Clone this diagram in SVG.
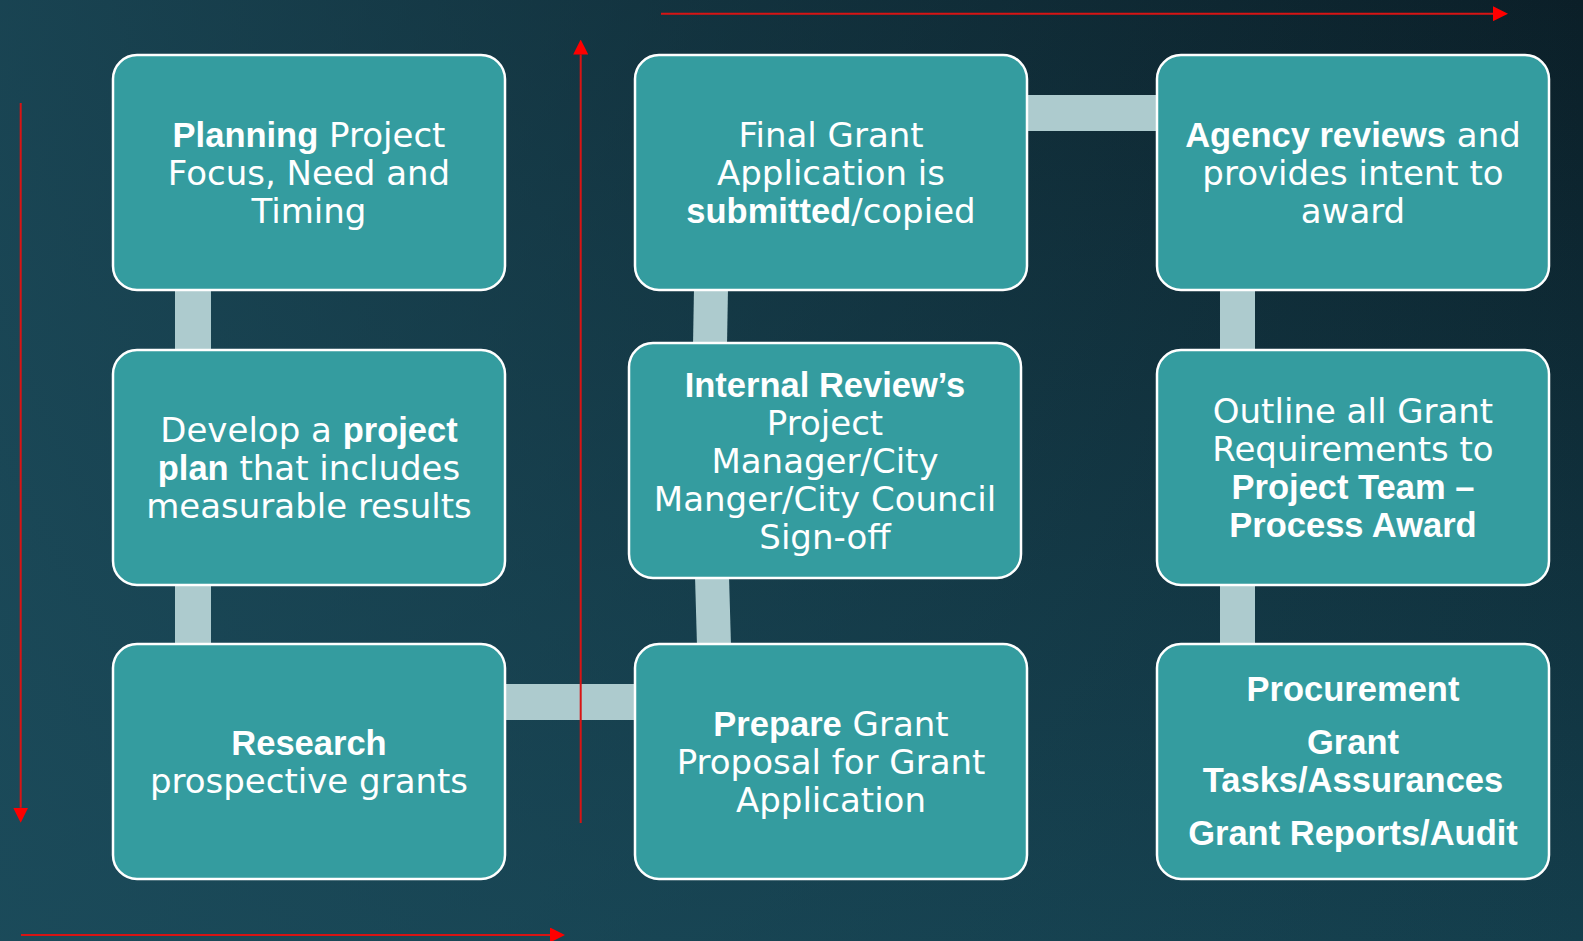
<svg xmlns="http://www.w3.org/2000/svg" width="1583" height="941" viewBox="0 0 1583 941">
<defs>
<linearGradient id="base" x1="0" y1="0" x2="0" y2="941" gradientUnits="userSpaceOnUse">
<stop offset="0" stop-color="#0B1F28"/>
<stop offset="1" stop-color="#143E4C"/>
</linearGradient>
<linearGradient id="light" x1="0" y1="0" x2="1583" y2="0" gradientUnits="userSpaceOnUse">
<stop offset="0" stop-color="#1D4E5E" stop-opacity="0.78"/>
<stop offset="0.4" stop-color="#1D4E5E" stop-opacity="0.45"/>
<stop offset="1" stop-color="#1D4E5E" stop-opacity="0"/>
</linearGradient>
<marker id="ah" viewBox="0 0 15 15" refX="0" refY="7.5" markerWidth="15" markerHeight="15" markerUnits="userSpaceOnUse" orient="auto">
<path d="M0,0 L15,7.5 L0,15 Z" fill="#FF0000"/>
</marker>
<style>
.box{fill:#349C9F;stroke:#FFFFFF;stroke-width:2.5}
.bar{fill:#ADCBCE}
.arr{stroke:#D81414;stroke-width:2;fill:none}
.t{fill:#FFFFFF;font-family:"DejaVu Sans",sans-serif;font-size:34px;text-anchor:middle}
.b{font-family:"Liberation Sans",Arial,sans-serif;font-weight:bold;font-size:34.5px}
</style>
</defs>
<rect x="0" y="0" width="1583" height="941" fill="url(#base)"/>
<rect x="0" y="0" width="1583" height="941" fill="url(#light)"/>

<g id="connectors">
<rect class="bar" x="175" y="288" width="36" height="64"/>
<rect class="bar" x="175" y="583" width="36" height="63"/>
<rect class="bar" x="503" y="684" width="134" height="36"/>
<polygon class="bar" points="695,576 729,576 731,646 697,646"/>
<polygon class="bar" points="694,288 728,288 727,345 693,345"/>
<rect class="bar" x="1025" y="95" width="134" height="36"/>
<rect class="bar" x="1220" y="288" width="35" height="64"/>
<rect class="bar" x="1220" y="583" width="35" height="63"/>
</g>

<g id="arrows">
<line class="arr" x1="20.7" y1="103" x2="20.7" y2="807.7" marker-end="url(#ah)"/>
<line class="arr" x1="21" y1="935" x2="550" y2="935" marker-end="url(#ah)"/>
<line class="arr" x1="580.7" y1="823" x2="580.7" y2="54.5" marker-end="url(#ah)"/>
<line class="arr" x1="661" y1="13.7" x2="1493" y2="13.7" marker-end="url(#ah)"/>
</g>

<g id="n1">
<rect class="box" x="113" y="55" width="392" height="235" rx="24"/>
<text class="t" x="309" y="147"><tspan class="b">Planning</tspan> Project</text>
<text class="t" x="309" y="185">Focus, Need and</text>
<text class="t" x="309" y="223">Timing</text>
</g>

<g id="n2">
<rect class="box" x="113" y="350" width="392" height="235" rx="24"/>
<text class="t" x="309" y="442">Develop a <tspan class="b">project</tspan></text>
<text class="t" x="309" y="480"><tspan class="b">plan</tspan> that includes</text>
<text class="t" x="309" y="518">measurable results</text>
</g>

<g id="n3">
<rect class="box" x="113" y="644" width="392" height="235" rx="24"/>
<text class="t" x="309" y="754.5"><tspan class="b">Research</tspan></text>
<text class="t" x="309" y="792.5">prospective grants</text>
</g>

<g id="n4">
<rect class="box" x="635" y="644" width="392" height="235" rx="24"/>
<text class="t" x="831" y="735.5"><tspan class="b">Prepare</tspan> Grant</text>
<text class="t" x="831" y="773.5">Proposal for Grant</text>
<text class="t" x="831" y="811.5">Application</text>
</g>

<g id="n5">
<rect class="box" x="629" y="343" width="392" height="235" rx="24"/>
<text class="t" x="825" y="397"><tspan class="b">Internal Review’s</tspan></text>
<text class="t" x="825" y="435">Project</text>
<text class="t" x="825" y="473">Manager/City</text>
<text class="t" x="825" y="511">Manger/City Council</text>
<text class="t" x="825" y="549">Sign-off</text>
</g>

<g id="n6">
<rect class="box" x="635" y="55" width="392" height="235" rx="24"/>
<text class="t" x="831" y="147">Final Grant</text>
<text class="t" x="831" y="185">Application is</text>
<text class="t" x="831" y="223"><tspan class="b">submitted</tspan>/copied</text>
</g>

<g id="n7">
<rect class="box" x="1157" y="55" width="392" height="235" rx="24"/>
<text class="t" x="1353" y="147"><tspan class="b">Agency reviews</tspan> and</text>
<text class="t" x="1353" y="185">provides intent to</text>
<text class="t" x="1353" y="223">award</text>
</g>

<g id="n8">
<rect class="box" x="1157" y="350" width="392" height="235" rx="24"/>
<text class="t" x="1353" y="423">Outline all Grant</text>
<text class="t" x="1353" y="461">Requirements to</text>
<text class="t" x="1353" y="499"><tspan class="b">Project Team –</tspan></text>
<text class="t" x="1353" y="537"><tspan class="b">Process Award</tspan></text>
</g>

<g id="n9">
<rect class="box" x="1157" y="644" width="392" height="235" rx="24"/>
<text class="t" x="1353" y="700.7"><tspan class="b">Procurement</tspan></text>
<text class="t" x="1353" y="754"><tspan class="b">Grant</tspan></text>
<text class="t" x="1353" y="792.3"><tspan class="b">Tasks/Assurances</tspan></text>
<text class="t" x="1353" y="845"><tspan class="b">Grant Reports/Audit</tspan></text>
</g>
</svg>
